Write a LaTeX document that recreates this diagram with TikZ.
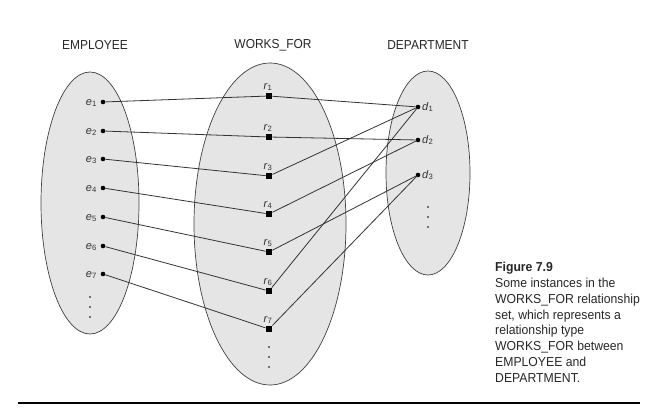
\documentclass[tikz,border=0pt]{standalone}
\usepackage{fontspec}
\setmainfont{Liberation Sans}
\begin{document}
\begin{tikzpicture}[x=1pt,y=-1pt,
  setfill/.style={draw=black!75,fill=black!10,line width=0.7pt},
  link/.style={draw=black!80,line width=0.8pt},
  ent/.style={circle,fill=black,inner sep=0pt,minimum size=4.6pt},
  rel/.style={rectangle,fill=black,inner sep=0pt,minimum size=6.5pt},
  vdot/.style={circle,fill=black,inner sep=0pt,minimum size=1.8pt},
  title/.style={font=\fontsize{13}{15}\selectfont,text=black!85,xscale=0.92},
  lab/.style={font=\fontsize{11}{13}\selectfont,text=black!80,inner sep=1pt},
  caption/.style={font=\fontsize{13}{15.8}\selectfont,text=black!85,align=left,anchor=north west,inner sep=0pt,xscale=0.94}
]
\useasboundingbox (0,0) rectangle (668,412);

% set titles
\node[title] (tE) at (95,45) {EMPLOYEE};
\node[title] (tW) at (273,45) {WORKS\_FOR};
\node[title] (tD) at (428,45) {DEPARTMENT};

% the three sets
\draw[setfill] (90,203) ellipse [x radius=49, y radius=131];
\draw[setfill] (270,224) ellipse [x radius=76, y radius=161];
\draw[setfill] (428,173) ellipse [x radius=42, y radius=102];

% employees
\foreach \i/\y in {1/102,2/131,3/159,4/188,5/217,6/246,7/274}{
  \node[ent] (e\i) at (103,\y) {};
  \node[lab,anchor=east] (le\i) at (98,\y+1) {\textit{e}\textsubscript{\i}};
}
% relationship instances
\foreach \i/\y in {1/96,2/137,3/176,4/214,5/252,6/291,7/329}{
  \node[rel] (r\i) at (269,\y) {};
  \node[lab,anchor=south] (lr\i) at (268,\y-4) {\textit{r}\textsubscript{\i}};
}
% departments
\foreach \i/\y in {1/107,2/140,3/175}{
  \node[ent] (d\i) at (418,\y) {};
  \node[lab,anchor=west] (ld\i) at (421,\y) {\textit{d}\textsubscript{\i}};
}

% continuation dots
\foreach \y [count=\k] in {297,307,317}{\node[vdot] (ve\k) at (90,\y) {};}
\foreach \y [count=\k] in {347,357,367}{\node[vdot] (vr\k) at (269,\y) {};}
\foreach \y [count=\k] in {207,217,227}{\node[vdot] (vd\k) at (428,\y) {};}

% employee -- relationship
\foreach \i in {1,...,7}{\draw[link] (e\i) -- (r\i);}
% relationship -- department
\foreach \a/\b in {1/1,2/2,3/1,4/2,5/3,6/1,7/3}{\draw[link] (r\a) -- (d\b);}

% caption
\node[caption] (cap) at (495,262) {\textbf{Figure 7.9}\\Some instances in the\\WORKS\_FOR relationship\\set, which represents a\\relationship type\\WORKS\_FOR between\\EMPLOYEE and\\DEPARTMENT.};

% bottom rule
\coordinate (ruleL) at (18,403);
\coordinate (ruleR) at (640,403);
\draw[line width=1.2pt] (ruleL) -- (ruleR);
\end{tikzpicture}
\end{document}
